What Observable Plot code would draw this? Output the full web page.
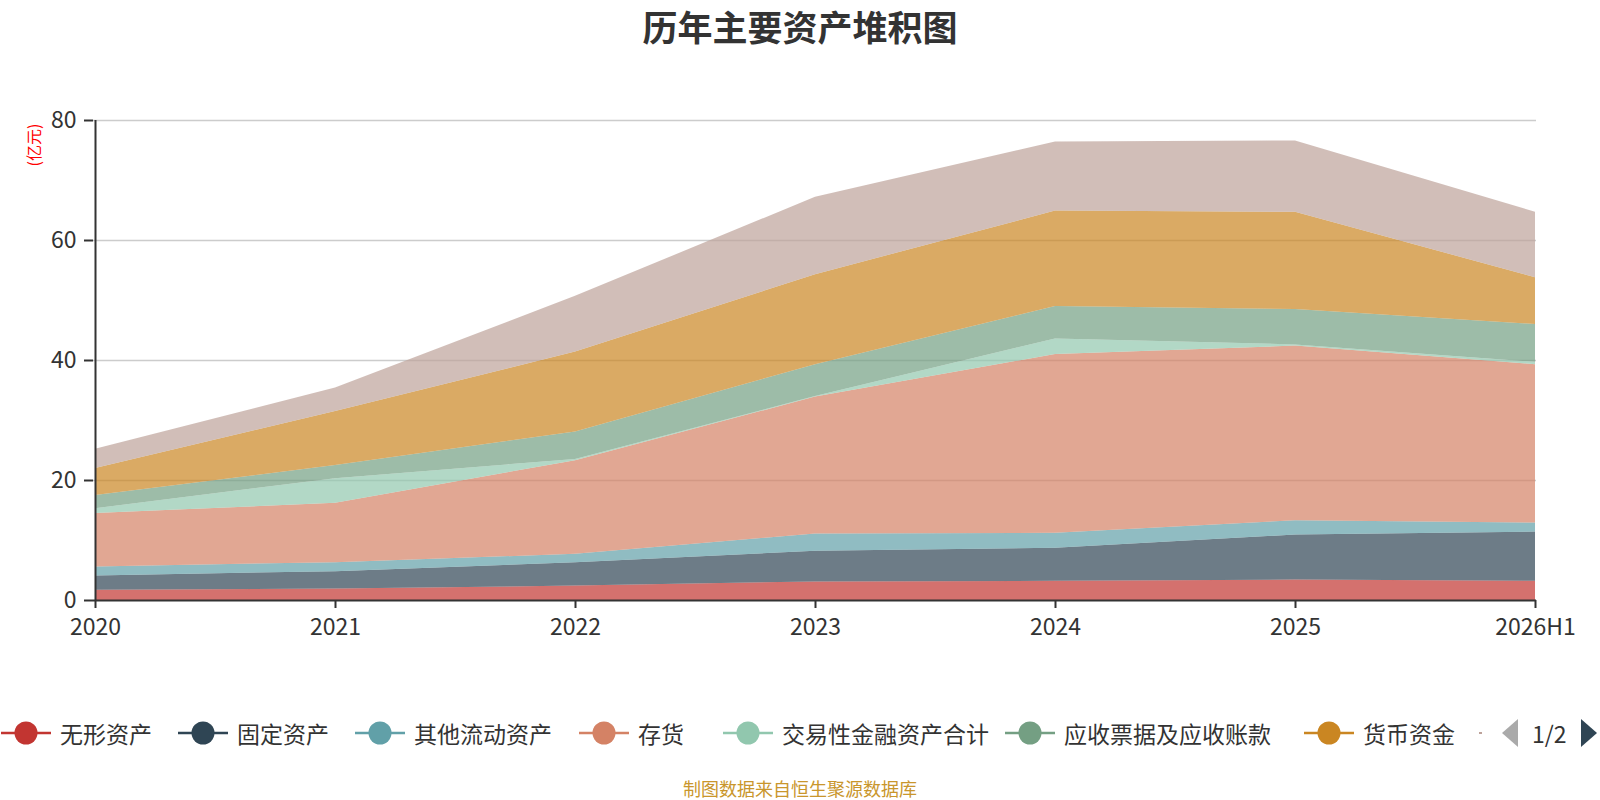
<!DOCTYPE html>
<html>
<head>
<meta charset="utf-8">
<script src="https://cdn.jsdelivr.net/npm/d3@7"></script>
<script src="https://cdn.jsdelivr.net/npm/@observablehq/plot@0.6"></script>
<style>
  html, body { margin: 0; padding: 0; background: #fff; }
  #wrap { position: relative; width: 1600px; height: 800px; overflow: hidden; font-family: "Noto Sans CJK SC", "Noto Sans", sans-serif; }
  #title { position: absolute; left: 0; top: 4px; width: 1600px; text-align: center; font-size: 35px; font-weight: bold; color: #333; line-height: 44px; }
  #unit { position: absolute; left: 33px; top: 145px; transform: translate(-50%, -50%) rotate(-90deg); color: #ff0000; font-size: 16px; white-space: nowrap; }
  #chart { position: absolute; left: 0; top: 0; }
  .leg { position: absolute; top: 718px; height: 30px; display: flex; align-items: center; font-size: 23px; color: #333; white-space: nowrap; }
  .leg svg { display: block; }
  #source { position: absolute; left: 0; top: 776px; width: 1600px; text-align: center; font-size: 18px; color: #c9962c; line-height: 24px; }
  #pager { position: absolute; left: 1500px; top: 718px; height: 30px; display: flex; align-items: center; font-size: 23px; color: #333; }
</style>
</head>
<body>
<div id="wrap">
  <div id="title">历年主要资产堆积图</div>
  <div id="chart"></div>
  <div id="unit">(亿元)</div>
  <div id="legend"></div>
  <div id="source">制图数据来自恒生聚源数据库</div>
</div>
<script>
// ---- data ----
const years = ["2020", "2021", "2022", "2023", "2024", "2025", "2026H1"];
const seriesNames = ["无形资产", "固定资产", "其他流动资产", "存货", "交易性金融资产合计", "应收票据及应收账款", "货币资金", "其他资产"];
const seriesColors = ["#c23531", "#2f4554", "#61a0a8", "#d48265", "#91c7ae", "#749f83", "#ca8622", "#bda29a"];
const intangible   = [1.7, 1.9, 2.4, 3.1, 3.2, 3.4, 3.2];
const fixedAssets  = [2.4, 2.9, 3.9, 5.1, 5.5, 7.5, 8.2];
const otherCurrent = [1.5, 1.5, 1.4, 2.9, 2.5, 2.4, 1.5];
const inventory    = [8.9, 9.9, 15.6, 22.8, 29.8, 29.1, 26.4];
const tradingFin   = [0.8, 4.1, 0.2, 0.1, 2.6, 0.2, 0.4];
const receivables  = [2.2, 2.2, 4.6, 5.3, 5.4, 5.9, 6.3];
const cash         = [4.5, 9.0, 13.3, 15.0, 15.9, 16.2, 7.8];
const otherAssets  = [3.2, 3.9, 9.3, 12.9, 11.5, 11.9, 10.9];
const yTicks = [0, 20, 40, 60, 80];
const gridTicks = [20, 40, 60, 80];
const legendCount = 7;

const seriesValues = [intangible, fixedAssets, otherCurrent, inventory, tradingFin, receivables, cash, otherAssets];
const rows = seriesNames.flatMap((name, i) => years.map((year, j) => ({year, name, value: seriesValues[i][j]})));

// ---- chart ----
const chart = Plot.plot({
  width: 1600,
  height: 640,
  marginLeft: 93,
  marginRight: 64,
  marginTop: 120,
  marginBottom: 40,
  style: {fontFamily: '"Noto Sans CJK SC", "Noto Sans", sans-serif', fontSize: "23px", color: "#333", background: "transparent", overflow: "visible"},
  x: {type: "point", domain: years, padding: 0},
  y: {domain: [0, 80]},
  color: {domain: seriesNames, range: seriesColors},
  marks: [
    Plot.ruleY(gridTicks, {stroke: "#cccccc", strokeWidth: 1.5}),
    Plot.areaY(rows, Plot.stackY({x: "year", y: "value", z: "name", fill: "name", fillOpacity: 0.7, order: seriesNames, curve: "linear"})),
    Plot.axisY({ticks: yTicks, tickSize: 9, tickPadding: 8, label: null, fontSize: 23, strokeWidth: 2}),
    Plot.axisX({tickSize: 8, tickPadding: 10, label: null, fontSize: 23, strokeWidth: 2}),
    Plot.ruleX([years[0]], {stroke: "#333", strokeWidth: 2}),
    Plot.ruleY([0], {stroke: "#333", strokeWidth: 2})
  ]
});
document.getElementById("chart").appendChild(chart);

// ---- legend ----
const legendIconCenters = [26, 203, 380, 604, 748, 1030, 1329];
const legend = document.getElementById("legend");
seriesNames.slice(0, legendCount).forEach((name, i) => {
  const item = document.createElement("div");
  item.className = "leg";
  item.style.left = (legendIconCenters[i] - 25) + "px";
  item.innerHTML = `<svg width="52" height="30"><line x1="0" x2="50" y1="15" y2="15" stroke="${seriesColors[i]}" stroke-width="2.5"/><circle cx="25" cy="15" r="11.5" fill="${seriesColors[i]}"/></svg><span style="margin-left:7px">${name}</span>`;
  legend.appendChild(item);
});
// clipped next item hint
const hint = document.createElement("div");
hint.className = "leg";
hint.style.left = "1479px";
hint.innerHTML = `<svg width="4" height="30"><line x1="0" x2="3" y1="15" y2="15" stroke="${seriesColors[7]}" stroke-width="2"/></svg>`;
legend.appendChild(hint);
// pager
const pager = document.createElement("div");
pager.id = "pager";
pager.innerHTML = `<svg width="20" height="30"><path d="M18,1 L18,29 L2,15 Z" fill="#aaaaaa"/></svg><span style="margin-left:12px">1/2</span><svg width="20" height="30" style="margin-left:12px"><path d="M2,1 L2,29 L18,15 Z" fill="#2f4554"/></svg>`;
legend.appendChild(pager);
</script>
</body>
</html>
